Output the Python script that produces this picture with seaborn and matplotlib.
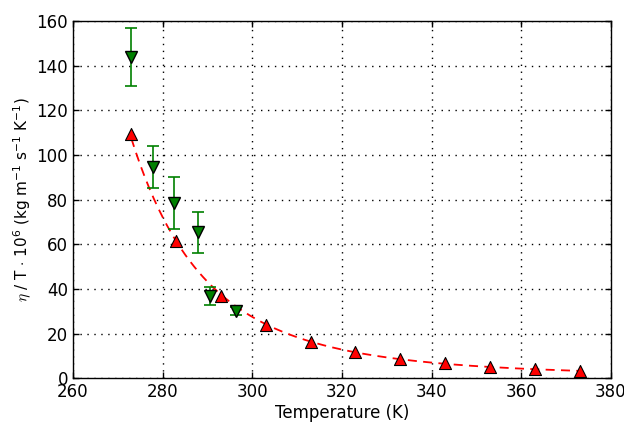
import numpy as np
import pandas as pd
import matplotlib
matplotlib.use("Agg")
import matplotlib.pyplot as plt
import seaborn as sns

# Data
temp_red = [273, 283, 293, 303, 313, 323, 333, 343, 353, 363, 373]
eta_red = [109.5, 61.3, 36.8, 23.8, 16.1, 11.7, 8.6, 6.7, 5.0, 4.0, 3.2]

temp_green = [273.0, 277.8, 282.5, 287.9, 290.6, 296.4]
eta_green = [144.0, 94.5, 78.5, 65.3, 36.8, 30.2]
err_green = [13.0, 9.4, 11.8, 9.0, 4.0, 1.8]

sns.set_style("ticks")
plt.rcParams.update({
    "font.family": ["DejaVu Sans"],
    "mathtext.fontset": "cm",
    "xtick.direction": "in",
    "ytick.direction": "in",
    "xtick.top": True,
    "ytick.right": True,
    "xtick.major.size": 4,
    "ytick.major.size": 4,
    "axes.edgecolor": "black",
    "axes.linewidth": 1.0,
    "xtick.color": "black",
    "ytick.color": "black",
    "axes.labelcolor": "black",
    "text.color": "black",
})

red = pd.DataFrame({"T": temp_red, "eta": eta_red})

# smooth fit through the red points (log eta vs 1/T)
coef = np.polyfit(1.0 / red["T"], np.log(red["eta"]), 2)
t_fit = np.linspace(min(temp_red), max(temp_red), 300)
fit = pd.DataFrame({"T": t_fit, "eta": np.exp(np.polyval(coef, 1.0 / t_fit))})

fig = plt.figure(figsize=(6.24, 4.23), dpi=100)
ax = fig.add_axes([0.117, 0.106, 0.862, 0.844])

sns.lineplot(data=fit, x="T", y="eta", ax=ax, color="red",
             linestyle=(0, (5, 3.5)), linewidth=1.3, zorder=2)

ax.errorbar(temp_green, eta_green, yerr=err_green, fmt="v", color="green",
            markerfacecolor="green", markeredgecolor="black", markersize=9,
            ecolor="green", elinewidth=1.2, capsize=4, capthick=1.2, zorder=3)

sns.scatterplot(data=red, x="T", y="eta", ax=ax, marker="^", s=75,
                color="red", edgecolor="black", linewidth=0.8, zorder=4)

ax.set_xlim(260, 380)
ax.set_ylim(0, 160)
ax.set_xticks(range(260, 381, 20))
ax.set_yticks(range(0, 161, 20))
ax.tick_params(labelsize=12, width=1)
ax.grid(True, color="black", linestyle=(0, (1, 4)), linewidth=1)

ax.set_xlabel("Temperature (K)", fontsize=12, labelpad=2)
ax.set_ylabel(r"$\eta$ / T $\cdot$ 10$\mathregular{^6}$ (kg m$\mathregular{^{-1}}$ "
              r"s$\mathregular{^{-1}}$ K$\mathregular{^{-1}}$)", fontsize=11, labelpad=2)

fig.savefig("out.png", dpi=100)
